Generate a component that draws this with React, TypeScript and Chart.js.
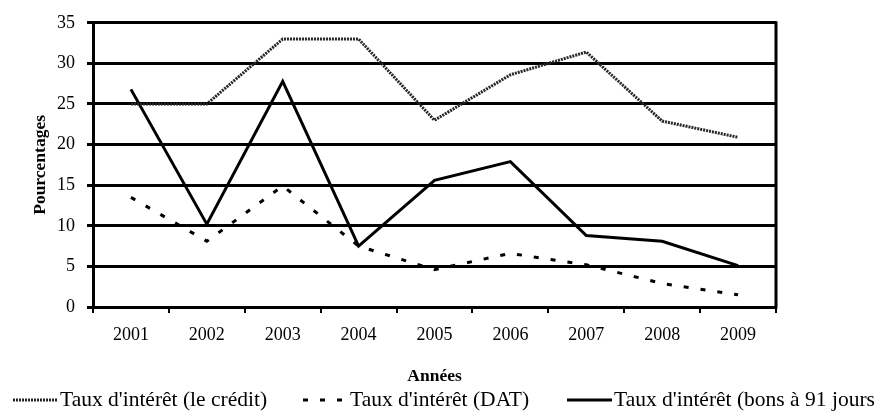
import React, { useEffect, useRef } from "react";
import { Chart, registerables } from "chart.js";

Chart.register(...registerables);

const years = ["2001", "2002", "2003", "2004", "2005", "2006", "2007", "2008", "2009"];
const credit = [25, 25, 33, 33, 23, 28.6, 31.4, 22.9, 20.9];
const dat = [13.5, 8.1, 14.9, 7.5, 4.6, 6.6, 5.2, 2.9, 1.5];
const bons91 = [26.8, 10.2, 27.8, 7.5, 15.6, 17.9, 8.8, 8.1, 5.1];
const seriesLabels = [
  "Taux d'intérêt (le crédit)",
  "Taux d'intérêt (DAT)",
  "Taux d'intérêt (bons à 91 jours)",
];
const yTitle = "Pourcentages";
const xTitle = "Années";

const FONT = "'Liberation Serif', 'Times New Roman', serif";

const legendPlugin = {
  id: "customLegend",
  afterDraw(chart: any) {
    const ctx = chart.ctx;
    const starts = [13, 303, 567];
    const y = 400;
    chart.data.datasets.forEach((ds: any, i: number) => {
      const x0 = starts[i];
      ctx.save();
      ctx.strokeStyle = ds.borderColor;
      ctx.lineWidth = ds.borderWidth;
      ctx.setLineDash(ds.borderDash || []);
      ctx.beginPath();
      ctx.moveTo(x0, y);
      ctx.lineTo(x0 + 45, y);
      ctx.stroke();
      ctx.setLineDash([]);
      ctx.fillStyle = "#000";
      ctx.font = `21.5px ${FONT}`;
      ctx.textBaseline = "middle";
      ctx.textAlign = "left";
      ctx.fillText(ds.label, x0 + 47, y);
      ctx.restore();
    });
  },
};

const framePlugin = {
  id: "rightFrame",
  afterDraw(chart: any) {
    const { ctx, chartArea } = chart;
    ctx.save();
    ctx.strokeStyle = "#000";
    ctx.lineWidth = 3;
    ctx.beginPath();
    ctx.moveTo(chartArea.right, chartArea.top - 1.5);
    ctx.lineTo(chartArea.right, chartArea.bottom + 1.5);
    ctx.stroke();
    ctx.restore();
  },
};

export default function App() {
  const ref = useRef<HTMLCanvasElement>(null);
  useEffect(() => {
    if (!ref.current) return;
    const chart = new Chart(ref.current, {
      type: "line",
      data: {
        labels: years,
        datasets: [
          {
            label: seriesLabels[0],
            data: credit,
            borderColor: "#262626",
            borderWidth: 3,
            borderDash: [2, 1],
            pointRadius: 0,
            tension: 0,
            fill: false,
          },
          {
            label: seriesLabels[1],
            data: dat,
            borderColor: "#000",
            borderWidth: 3,
            borderDash: [5, 12],
            pointRadius: 0,
            tension: 0,
            fill: false,
          },
          {
            label: seriesLabels[2],
            data: bons91,
            borderColor: "#000",
            borderWidth: 3,
            pointRadius: 0,
            tension: 0,
            fill: false,
          },
        ],
      },
      options: {
        responsive: false,
        animation: false,
        layout: { padding: { top: 17, right: 98, bottom: 27, left: 0 } },
        plugins: {
          legend: { display: false },
          tooltip: { enabled: false },
        },
        scales: {
          x: {
            type: "category",
            offset: true,
            grid: {
              offset: true,
              drawOnChartArea: false,
              drawTicks: true,
              tickLength: 6,
              color: "#000",
              lineWidth: 2,
            },
            border: { display: true, color: "#000", width: 3 },
            ticks: {
              color: "#000",
              font: { family: FONT, size: 18 },
              padding: 11,
              maxRotation: 0,
            },
            title: {
              display: true,
              text: xTitle,
              color: "#000",
              font: { family: FONT, size: 17.5, weight: "bold" },
              padding: { top: 0, bottom: 0 },
            },
            afterFit(scale: any) {
              scale.height = 80;
            },
          },
          y: {
            min: 0,
            max: 35,
            ticks: {
              stepSize: 5,
              color: "#000",
              font: { family: FONT, size: 18 },
              padding: 12,
            },
            grid: {
              color: "#000",
              lineWidth: 3,
              tickLength: 6,
            },
            border: { display: true, color: "#000", width: 3 },
            title: {
              display: true,
              text: yTitle,
              color: "#000",
              font: { family: FONT, size: 17.5, weight: "bold" },
              padding: { top: 30, bottom: 0 },
            },
            afterFit(scale: any) {
              scale.width = 93;
            },
          },
        },
      },
      plugins: [legendPlugin, framePlugin],
    });
    return () => chart.destroy();
  }, []);
  return (
    <div style={{ position: "fixed", left: 0, top: 0, width: 874, height: 414, background: "#fff" }}>
      <canvas ref={ref} width={874} height={414} style={{ display: "block" }} />
    </div>
  );
}
